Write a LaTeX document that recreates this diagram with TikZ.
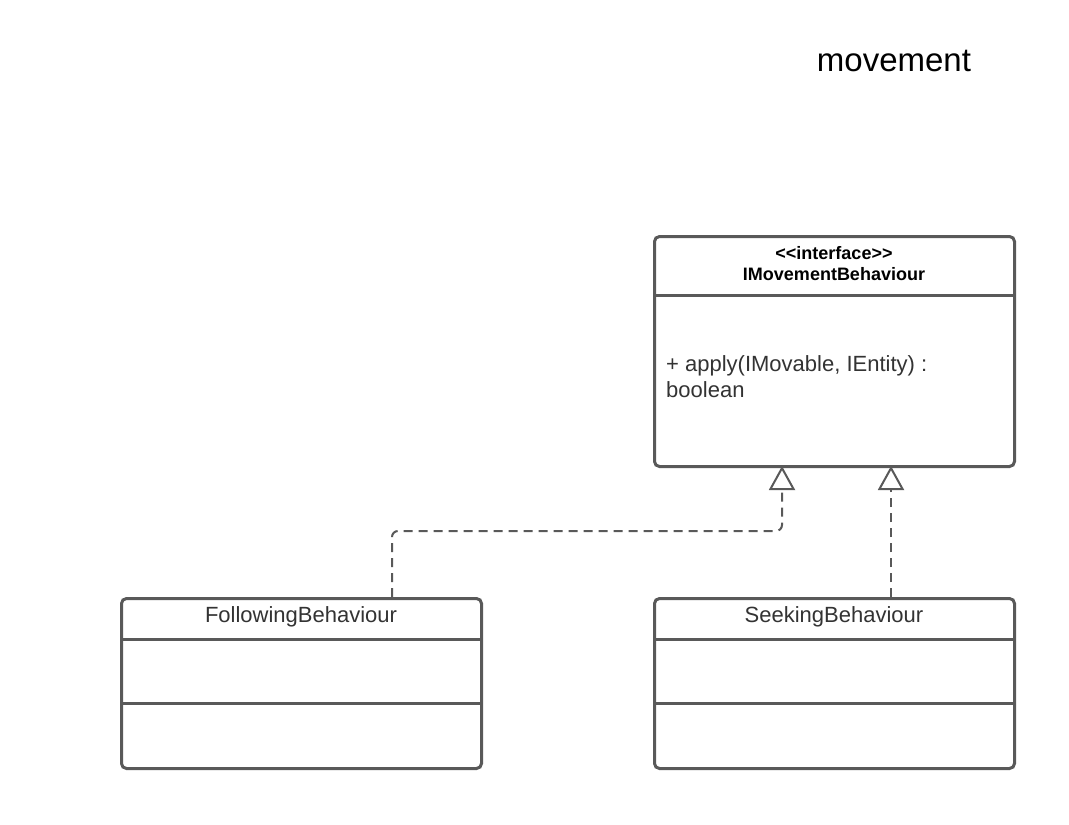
\documentclass[tikz,border=0pt]{standalone}
\usepackage{fontspec}
\setmainfont{Liberation Sans}
\usetikzlibrary{arrows.meta}
\usetikzlibrary{positioning}
\definecolor{umlgray}{HTML}{595959}
\definecolor{umltext}{HTML}{333333}

\tikzset{
  classbox/.style={draw=umlgray, line width=3pt, rounded corners=5pt, fill=white,
    minimum width=360pt, anchor=north west, inner sep=0pt},
  divider/.style={draw=umlgray, line width=3pt},
  realize/.style={draw=umlgray, line width=2pt, dash pattern=on 9pt off 6pt,
    rounded corners=6pt, -{Triangle[open, length=24pt, width=26pt, line width=2pt]}},
  classname/.style={text=umltext, font=\fontsize{22}{26}\selectfont, inner sep=0pt}
}

\begin{document}
\begin{tikzpicture}[x=1pt, y=-1pt]
  \useasboundingbox[fill=white] (0, 0) rectangle (1069, 825);

  % title
  \node[font=\fontsize{33}{38}\selectfont] (title) at (894, 61) {movement};

  % interface
  \node[classbox, minimum height=230pt] (iface) at (653, 235) {};
  \draw[divider] (653, 295) -- +(360, 0);
  \node[font=\bfseries\fontsize{18}{21}\selectfont, align=center] (ifacename) at (834, 264)
    {{<}{<}interface{>}{>}\\IMovementBehaviour};
  \node[classname, anchor=west, align=left] (apply) at (666, 377)
    {+ apply(IMovable, IEntity) :\\boolean};

  % implementations
  \node[classbox, minimum height=170pt] (following) at (120, 597) {};
  \node[classbox, minimum height=170pt] (seeking) at (653, 597) {};
  \foreach \x in {120, 653} {
    \draw[divider] (\x, 639) -- +(360, 0);
    \draw[divider] (\x, 703) -- +(360, 0);
  }
  \node[classname] (followingname) at (301, 617) {FollowingBehaviour};
  \node[classname] (seekingname) at (834, 617) {SeekingBehaviour};

  % realizations
  \coordinate (ftop) at (392, 597);
  \coordinate (stop) at (891, 597);
  \coordinate (ileft) at (782, 466);
  \coordinate (iright) at (891, 466);
  \draw[realize] (ftop) -- (392, 531) -- (782, 531) -- (ileft);
  \draw[realize] (stop) -- (iright);
\end{tikzpicture}
\end{document}
